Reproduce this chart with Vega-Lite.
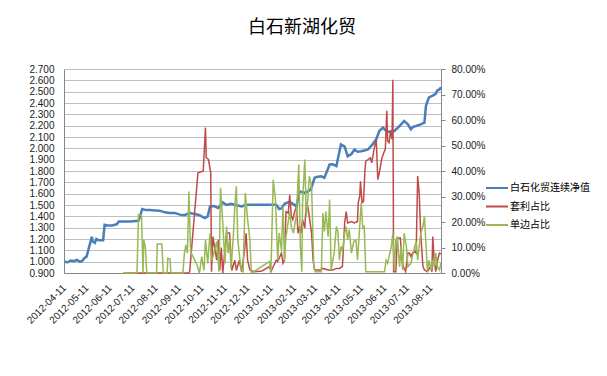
{
  "$schema": "https://vega.github.io/schema/vega-lite/v6.json",
  "width": 377,
  "height": 204,
  "autosize": {"type": "none"},
  "padding": {"left": 64, "top": 69, "right": 166, "bottom": 103},
  "background": "white",
  "title": {"text": "白石新湖化贸", "anchor": "start", "frame": "group", "dx": 184, "offset": 27, "fontSize": 18, "font": "Noto Sans CJK SC", "fontWeight": "normal", "color": "#000000"},
  "config": {"view": {"stroke": null}},
  "datasets": {
    "nav": [
      {"d": "2012-04-12", "v": 1.0}, {"d": "2012-04-16", "v": 0.995}, {"d": "2012-04-20", "v": 1.01}, {"d": "2012-04-24", "v": 1.005},
      {"d": "2012-04-28", "v": 1.015}, {"d": "2012-05-02", "v": 1.0}, {"d": "2012-05-05", "v": 1.005}, {"d": "2012-05-08", "v": 1.03},
      {"d": "2012-05-11", "v": 1.045}, {"d": "2012-05-14", "v": 1.12}, {"d": "2012-05-18", "v": 1.22}, {"d": "2012-05-19", "v": 1.18},
      {"d": "2012-05-22", "v": 1.166}, {"d": "2012-05-24", "v": 1.2}, {"d": "2012-05-27", "v": 1.19}, {"d": "2012-06-02", "v": 1.19},
      {"d": "2012-06-04", "v": 1.325}, {"d": "2012-06-08", "v": 1.32}, {"d": "2012-06-14", "v": 1.32}, {"d": "2012-06-20", "v": 1.33},
      {"d": "2012-06-23", "v": 1.355}, {"d": "2012-07-01", "v": 1.355}, {"d": "2012-07-08", "v": 1.355}, {"d": "2012-07-19", "v": 1.36},
      {"d": "2012-07-21", "v": 1.4}, {"d": "2012-07-24", "v": 1.465}, {"d": "2012-07-29", "v": 1.455}, {"d": "2012-08-03", "v": 1.455},
      {"d": "2012-08-10", "v": 1.452}, {"d": "2012-08-16", "v": 1.45}, {"d": "2012-08-23", "v": 1.435}, {"d": "2012-08-30", "v": 1.43},
      {"d": "2012-09-05", "v": 1.43}, {"d": "2012-09-12", "v": 1.415}, {"d": "2012-09-18", "v": 1.41}, {"d": "2012-09-25", "v": 1.43},
      {"d": "2012-10-02", "v": 1.42}, {"d": "2012-10-08", "v": 1.41}, {"d": "2012-10-15", "v": 1.385}, {"d": "2012-10-19", "v": 1.4},
      {"d": "2012-10-22", "v": 1.488}, {"d": "2012-10-27", "v": 1.49}, {"d": "2012-11-02", "v": 1.473}, {"d": "2012-11-08", "v": 1.523},
      {"d": "2012-11-13", "v": 1.5}, {"d": "2012-11-19", "v": 1.51}, {"d": "2012-11-25", "v": 1.5}, {"d": "2012-12-03", "v": 1.488},
      {"d": "2012-12-08", "v": 1.5}, {"d": "2012-12-14", "v": 1.503}, {"d": "2012-12-27", "v": 1.503}, {"d": "2013-01-09", "v": 1.503},
      {"d": "2013-01-18", "v": 1.503}, {"d": "2013-01-22", "v": 1.465}, {"d": "2013-01-25", "v": 1.47}, {"d": "2013-01-29", "v": 1.51},
      {"d": "2013-02-05", "v": 1.53}, {"d": "2013-02-09", "v": 1.51}, {"d": "2013-02-14", "v": 1.488}, {"d": "2013-02-18", "v": 1.62},
      {"d": "2013-02-25", "v": 1.607}, {"d": "2013-03-01", "v": 1.62}, {"d": "2013-03-05", "v": 1.636}, {"d": "2013-03-10", "v": 1.74},
      {"d": "2013-03-14", "v": 1.75}, {"d": "2013-03-19", "v": 1.753}, {"d": "2013-03-23", "v": 1.74}, {"d": "2013-03-30", "v": 1.858},
      {"d": "2013-04-03", "v": 1.86}, {"d": "2013-04-08", "v": 1.843}, {"d": "2013-04-14", "v": 2.035}, {"d": "2013-04-19", "v": 2.015},
      {"d": "2013-04-23", "v": 1.93}, {"d": "2013-04-28", "v": 1.95}, {"d": "2013-05-02", "v": 1.99}, {"d": "2013-05-06", "v": 1.97},
      {"d": "2013-05-11", "v": 1.975}, {"d": "2013-05-15", "v": 1.98}, {"d": "2013-05-20", "v": 1.99}, {"d": "2013-05-26", "v": 2.035},
      {"d": "2013-05-31", "v": 2.08}, {"d": "2013-06-04", "v": 2.153}, {"d": "2013-06-09", "v": 2.183}, {"d": "2013-06-12", "v": 2.16},
      {"d": "2013-06-15", "v": 2.144}, {"d": "2013-06-20", "v": 2.15}, {"d": "2013-06-24", "v": 2.153}, {"d": "2013-07-01", "v": 2.197},
      {"d": "2013-07-07", "v": 2.242}, {"d": "2013-07-12", "v": 2.212}, {"d": "2013-07-16", "v": 2.167}, {"d": "2013-07-19", "v": 2.19},
      {"d": "2013-07-23", "v": 2.197}, {"d": "2013-07-29", "v": 2.212}, {"d": "2013-08-03", "v": 2.227}, {"d": "2013-08-05", "v": 2.375},
      {"d": "2013-08-09", "v": 2.45}, {"d": "2013-08-14", "v": 2.465}, {"d": "2013-08-18", "v": 2.48}, {"d": "2013-08-20", "v": 2.51},
      {"d": "2013-08-23", "v": 2.52}, {"d": "2013-08-25", "v": 2.538}
    ],
    "arb": [
      {"d": "2012-06-29", "v": 0}, {"d": "2012-09-23", "v": 0}, {"d": "2012-09-25", "v": 0.005}, {"d": "2012-10-06", "v": 0.393},
      {"d": "2012-10-13", "v": 0.399}, {"d": "2012-10-16", "v": 0.57}, {"d": "2012-10-17", "v": 0.452}, {"d": "2012-10-20", "v": 0.445},
      {"d": "2012-10-23", "v": 0.393}, {"d": "2012-10-24", "v": 0.005}, {"d": "2012-10-26", "v": 0.143}, {"d": "2012-10-28", "v": 0.104},
      {"d": "2012-10-31", "v": 0.05}, {"d": "2012-11-02", "v": 0.13}, {"d": "2012-11-04", "v": 0.01}, {"d": "2012-11-06", "v": 0.1},
      {"d": "2012-11-08", "v": 0.0}, {"d": "2012-11-13", "v": 0.157}, {"d": "2012-11-17", "v": 0.157}, {"d": "2012-11-20", "v": 0.01},
      {"d": "2012-11-24", "v": 0.05}, {"d": "2012-11-26", "v": 0.01}, {"d": "2012-11-30", "v": 0.05}, {"d": "2012-12-03", "v": 0.005},
      {"d": "2012-12-07", "v": 0.09}, {"d": "2012-12-09", "v": 0.156}, {"d": "2012-12-11", "v": 0.05}, {"d": "2012-12-14", "v": 0.012},
      {"d": "2012-12-20", "v": 0.005}, {"d": "2012-12-30", "v": 0.008}, {"d": "2013-01-09", "v": 0.025}, {"d": "2013-01-11", "v": 0.005},
      {"d": "2013-01-18", "v": 0.05}, {"d": "2013-01-20", "v": 0.045}, {"d": "2013-01-25", "v": 0.078}, {"d": "2013-01-27", "v": 0.038},
      {"d": "2013-01-29", "v": 0.05}, {"d": "2013-01-31", "v": 0.241}, {"d": "2013-02-03", "v": 0.235}, {"d": "2013-02-05", "v": 0.307},
      {"d": "2013-02-07", "v": 0.222}, {"d": "2013-02-09", "v": 0.209}, {"d": "2013-02-11", "v": 0.235}, {"d": "2013-02-14", "v": 0.261},
      {"d": "2013-02-16", "v": 0.156}, {"d": "2013-02-18", "v": 0.182}, {"d": "2013-02-20", "v": 0.156}, {"d": "2013-02-22", "v": 0.209},
      {"d": "2013-02-25", "v": 0.176}, {"d": "2013-02-27", "v": 0.275}, {"d": "2013-03-01", "v": 0.261}, {"d": "2013-03-03", "v": 0.222},
      {"d": "2013-03-06", "v": 0.156}, {"d": "2013-03-08", "v": 0.05}, {"d": "2013-03-10", "v": 0.012}, {"d": "2013-03-17", "v": 0.012},
      {"d": "2013-03-21", "v": 0.018}, {"d": "2013-03-28", "v": 0.012}, {"d": "2013-04-03", "v": 0.012}, {"d": "2013-04-08", "v": 0.018},
      {"d": "2013-04-12", "v": 0.018}, {"d": "2013-04-16", "v": 0.025}, {"d": "2013-04-19", "v": 0.196}, {"d": "2013-04-21", "v": 0.241},
      {"d": "2013-04-23", "v": 0.196}, {"d": "2013-04-28", "v": 0.202}, {"d": "2013-05-02", "v": 0.196}, {"d": "2013-05-06", "v": 0.202},
      {"d": "2013-05-07", "v": 0.275}, {"d": "2013-05-09", "v": 0.301}, {"d": "2013-05-10", "v": 0.36}, {"d": "2013-05-12", "v": 0.275},
      {"d": "2013-05-14", "v": 0.281}, {"d": "2013-05-16", "v": 0.406}, {"d": "2013-05-17", "v": 0.439}, {"d": "2013-05-20", "v": 0.445},
      {"d": "2013-05-23", "v": 0.452}, {"d": "2013-05-25", "v": 0.432}, {"d": "2013-05-28", "v": 0.485}, {"d": "2013-05-31", "v": 0.524},
      {"d": "2013-06-02", "v": 0.366}, {"d": "2013-06-04", "v": 0.393}, {"d": "2013-06-07", "v": 0.445}, {"d": "2013-06-10", "v": 0.472},
      {"d": "2013-06-12", "v": 0.485}, {"d": "2013-06-14", "v": 0.636}, {"d": "2013-06-15", "v": 0.517}, {"d": "2013-06-17", "v": 0.511},
      {"d": "2013-06-19", "v": 0.557}, {"d": "2013-06-21", "v": 0.524}, {"d": "2013-06-22", "v": 0.758}, {"d": "2013-06-23", "v": 0.005},
      {"d": "2013-06-26", "v": 0.005}, {"d": "2013-06-28", "v": 0.137}, {"d": "2013-07-02", "v": 0.137}, {"d": "2013-07-04", "v": 0.05},
      {"d": "2013-07-06", "v": 0.025}, {"d": "2013-07-09", "v": 0.005}, {"d": "2013-07-12", "v": 0.078}, {"d": "2013-07-14", "v": 0.078},
      {"d": "2013-07-16", "v": 0.064}, {"d": "2013-07-18", "v": 0.078}, {"d": "2013-07-21", "v": 0.084}, {"d": "2013-07-23", "v": 0.078},
      {"d": "2013-07-25", "v": 0.38}, {"d": "2013-07-27", "v": 0.314}, {"d": "2013-07-29", "v": 0.156}, {"d": "2013-08-01", "v": 0.025},
      {"d": "2013-08-03", "v": 0.012}, {"d": "2013-08-07", "v": 0.005}, {"d": "2013-08-11", "v": 0.025}, {"d": "2013-08-13", "v": 0.005},
      {"d": "2013-08-14", "v": 0.143}, {"d": "2013-08-16", "v": 0.05}, {"d": "2013-08-18", "v": 0.005}, {"d": "2013-08-20", "v": 0.045},
      {"d": "2013-08-23", "v": 0.078}, {"d": "2013-08-25", "v": 0.075}
    ],
    "single": [
      {"d": "2012-06-29", "v": 0}, {"d": "2012-07-17", "v": 0}, {"d": "2012-07-19", "v": 0.229}, {"d": "2012-07-23", "v": 0.225},
      {"d": "2012-07-25", "v": 0}, {"d": "2012-07-26", "v": 0.13}, {"d": "2012-07-28", "v": 0.104}, {"d": "2012-07-30", "v": 0},
      {"d": "2012-08-12", "v": 0}, {"d": "2012-08-13", "v": 0.114}, {"d": "2012-08-19", "v": 0.114}, {"d": "2012-08-21", "v": 0},
      {"d": "2012-08-26", "v": 0}, {"d": "2012-08-27", "v": 0.058}, {"d": "2012-08-30", "v": 0.054}, {"d": "2012-08-31", "v": 0},
      {"d": "2012-09-16", "v": 0}, {"d": "2012-09-18", "v": 0.078}, {"d": "2012-09-20", "v": 0.11}, {"d": "2012-09-22", "v": 0.078},
      {"d": "2012-09-24", "v": 0.32}, {"d": "2012-09-26", "v": 0.104}, {"d": "2012-09-27", "v": 0.078}, {"d": "2012-10-04", "v": 0.038},
      {"d": "2012-10-08", "v": 0}, {"d": "2012-10-11", "v": 0.064}, {"d": "2012-10-14", "v": 0.01}, {"d": "2012-10-16", "v": 0.13},
      {"d": "2012-10-19", "v": 0.038}, {"d": "2012-10-22", "v": 0.156}, {"d": "2012-10-24", "v": 0.05}, {"d": "2012-10-26", "v": 0.064},
      {"d": "2012-10-31", "v": 0.123}, {"d": "2012-11-03", "v": 0.005}, {"d": "2012-11-05", "v": 0.334}, {"d": "2012-11-08", "v": 0.196},
      {"d": "2012-11-11", "v": 0.038}, {"d": "2012-11-13", "v": 0.182}, {"d": "2012-11-15", "v": 0.078}, {"d": "2012-11-17", "v": 0.13},
      {"d": "2012-11-19", "v": 0.018}, {"d": "2012-11-22", "v": 0.143}, {"d": "2012-11-24", "v": 0.261}, {"d": "2012-11-26", "v": 0.34},
      {"d": "2012-11-28", "v": 0.13}, {"d": "2012-12-02", "v": 0.018}, {"d": "2012-12-05", "v": 0.005}, {"d": "2012-12-08", "v": 0.314},
      {"d": "2012-12-11", "v": 0.209}, {"d": "2012-12-14", "v": 0.13}, {"d": "2012-12-16", "v": 0.0}, {"d": "2013-01-09", "v": 0.045},
      {"d": "2013-01-11", "v": 0.005}, {"d": "2013-01-14", "v": 0.366}, {"d": "2013-01-17", "v": 0.288}, {"d": "2013-01-20", "v": 0.05},
      {"d": "2013-01-22", "v": 0.157}, {"d": "2013-01-25", "v": 0.09}, {"d": "2013-01-27", "v": 0.261}, {"d": "2013-01-29", "v": 0.05},
      {"d": "2013-01-31", "v": 0.143}, {"d": "2013-02-05", "v": 0.241}, {"d": "2013-02-07", "v": 0.182}, {"d": "2013-02-10", "v": 0.156},
      {"d": "2013-02-14", "v": 0.235}, {"d": "2013-02-17", "v": 0.425}, {"d": "2013-02-19", "v": 0.11}, {"d": "2013-02-21", "v": 0.005},
      {"d": "2013-02-22", "v": 0.275}, {"d": "2013-02-25", "v": 0.445}, {"d": "2013-02-27", "v": 0.222}, {"d": "2013-03-01", "v": 0.288},
      {"d": "2013-03-03", "v": 0.38}, {"d": "2013-03-06", "v": 0.34}, {"d": "2013-03-09", "v": 0.025}, {"d": "2013-03-11", "v": 0.005},
      {"d": "2013-03-19", "v": 0.005}, {"d": "2013-03-21", "v": 0.235}, {"d": "2013-03-23", "v": 0.163}, {"d": "2013-03-25", "v": 0.241},
      {"d": "2013-03-28", "v": 0.143}, {"d": "2013-03-30", "v": 0.288}, {"d": "2013-04-01", "v": 0.012}, {"d": "2013-04-05", "v": 0.078},
      {"d": "2013-04-08", "v": 0.182}, {"d": "2013-04-10", "v": 0.163}, {"d": "2013-04-12", "v": 0.05}, {"d": "2013-04-14", "v": 0.104},
      {"d": "2013-04-16", "v": 0.084}, {"d": "2013-04-19", "v": 0.156}, {"d": "2013-04-21", "v": 0.182}, {"d": "2013-04-23", "v": 0.13},
      {"d": "2013-04-25", "v": 0.17}, {"d": "2013-04-28", "v": 0.078}, {"d": "2013-05-01", "v": 0.123}, {"d": "2013-05-04", "v": 0.13},
      {"d": "2013-05-06", "v": 0.05}, {"d": "2013-05-09", "v": 0.182}, {"d": "2013-05-11", "v": 0.275}, {"d": "2013-05-13", "v": 0.176},
      {"d": "2013-05-15", "v": 0.182}, {"d": "2013-05-17", "v": 0.005}, {"d": "2013-06-11", "v": 0.005}, {"d": "2013-06-13", "v": 0.05},
      {"d": "2013-06-15", "v": 0.038}, {"d": "2013-06-17", "v": 0.064}, {"d": "2013-06-20", "v": 0.104}, {"d": "2013-06-22", "v": 0.156},
      {"d": "2013-06-24", "v": 0.012}, {"d": "2013-06-26", "v": 0.13}, {"d": "2013-06-28", "v": 0.143}, {"d": "2013-07-01", "v": 0.025},
      {"d": "2013-07-03", "v": 0.104}, {"d": "2013-07-05", "v": 0.012}, {"d": "2013-07-07", "v": 0.156}, {"d": "2013-07-10", "v": 0.104},
      {"d": "2013-07-12", "v": 0.025}, {"d": "2013-07-16", "v": 0.038}, {"d": "2013-07-18", "v": 0.064}, {"d": "2013-07-21", "v": 0.104},
      {"d": "2013-07-23", "v": 0.123}, {"d": "2013-07-25", "v": 0.05}, {"d": "2013-07-27", "v": 0.104}, {"d": "2013-07-29", "v": 0.156},
      {"d": "2013-08-01", "v": 0.182}, {"d": "2013-08-03", "v": 0.222}, {"d": "2013-08-05", "v": 0.114}, {"d": "2013-08-07", "v": 0.005},
      {"d": "2013-08-09", "v": 0.05}, {"d": "2013-08-12", "v": 0.012}, {"d": "2013-08-14", "v": 0.05}, {"d": "2013-08-16", "v": 0.025},
      {"d": "2013-08-18", "v": 0.078}, {"d": "2013-08-20", "v": 0.025}, {"d": "2013-08-23", "v": 0.012}, {"d": "2013-08-25", "v": 0.04}
    ]
  },
  "encoding": {
    "x": {
      "field": "d",
      "type": "temporal",
      "scale": {"type": "utc", "domain": [{"year": 2012, "month": 4, "date": 11, "utc": true}, {"year": 2013, "month": 8, "date": 25, "utc": true}]},
      "axis": {
        "title": null,
        "values": [
          {"year": 2012, "month": 4, "date": 11, "utc": true}, {"year": 2012, "month": 5, "date": 11, "utc": true},
          {"year": 2012, "month": 6, "date": 11, "utc": true}, {"year": 2012, "month": 7, "date": 11, "utc": true},
          {"year": 2012, "month": 8, "date": 11, "utc": true}, {"year": 2012, "month": 9, "date": 11, "utc": true},
          {"year": 2012, "month": 10, "date": 11, "utc": true}, {"year": 2012, "month": 11, "date": 11, "utc": true},
          {"year": 2012, "month": 12, "date": 11, "utc": true}, {"year": 2013, "month": 1, "date": 11, "utc": true},
          {"year": 2013, "month": 2, "date": 11, "utc": true}, {"year": 2013, "month": 3, "date": 11, "utc": true},
          {"year": 2013, "month": 4, "date": 11, "utc": true}, {"year": 2013, "month": 5, "date": 11, "utc": true},
          {"year": 2013, "month": 6, "date": 11, "utc": true}, {"year": 2013, "month": 7, "date": 11, "utc": true},
          {"year": 2013, "month": 8, "date": 11, "utc": true}
        ],
        "format": "%Y-%m-%d",
        "labelAngle": -45,
        "labelAlign": "right",
        "labelBaseline": "middle",
        "labelOverlap": false,
        "labelFlush": false,
        "labelPadding": 13,
        "ticks": false,
        "grid": false,
        "domainColor": "#868686",
        "labelFont": "Liberation Sans",
        "labelFontSize": 10,
        "labelColor": "#1a1a1a"
      }
    }
  },
  "layer": [
    {
      "data": {"name": "nav"},
      "mark": {"type": "line", "strokeWidth": 2.5},
      "encoding": {
        "y": {
          "field": "v", "type": "quantitative",
          "scale": {"domain": [0.9, 2.7], "nice": false, "zero": false},
          "axis": {
            "orient": "left", "title": null,
            "values": [0.9, 1.0, 1.1, 1.2, 1.3, 1.4, 1.5, 1.6, 1.7, 1.8, 1.9, 2.0, 2.1, 2.2, 2.3, 2.4, 2.5, 2.6, 2.7],
            "format": ".3f", "grid": true, "gridColor": "#BFBFBF", "gridWidth": 1,
            "ticks": false, "labelPadding": 10, "domainColor": "#868686",
            "labelFont": "Liberation Sans", "labelFontSize": 10, "labelColor": "#1a1a1a"
          }
        },
        "color": {
          "datum": "白石化贸连续净值",
          "scale": {"domain": ["白石化贸连续净值", "套利占比", "单边占比"], "range": ["#4A7EBB", "#BE4B48", "#98B954"]},
          "legend": {
            "title": null, "orient": "none", "legendX": 421, "legendY": 107,
            "symbolType": "stroke", "symbolSize": 484, "symbolStrokeWidth": 2,
            "labelFont": "Noto Sans CJK SC", "labelFontSize": 10, "labelColor": "#000000",
            "rowPadding": 1.5, "labelOffset": 1
          }
        }
      }
    },
    {
      "encoding": {
        "y": {
          "field": "v", "type": "quantitative",
          "scale": {"domain": [0, 0.8], "nice": false},
          "axis": {
            "orient": "right", "title": null,
            "values": [0, 0.1, 0.2, 0.3, 0.4, 0.5, 0.6, 0.7, 0.8],
            "format": ".2%", "grid": false, "tickSize": 4, "tickColor": "#868686",
            "labelPadding": 6, "domainColor": "#868686",
            "labelFont": "Liberation Sans", "labelFontSize": 10, "labelColor": "#1a1a1a"
          }
        }
      },
      "layer": [
        {
          "data": {"name": "arb"},
          "mark": {"type": "line", "strokeWidth": 1.5},
          "encoding": {"color": {"datum": "套利占比"}}
        },
        {
          "data": {"name": "single"},
          "mark": {"type": "line", "strokeWidth": 1.5},
          "encoding": {"color": {"datum": "单边占比"}}
        }
      ]
    }
  ],
  "resolve": {"scale": {"y": "independent"}}
}
